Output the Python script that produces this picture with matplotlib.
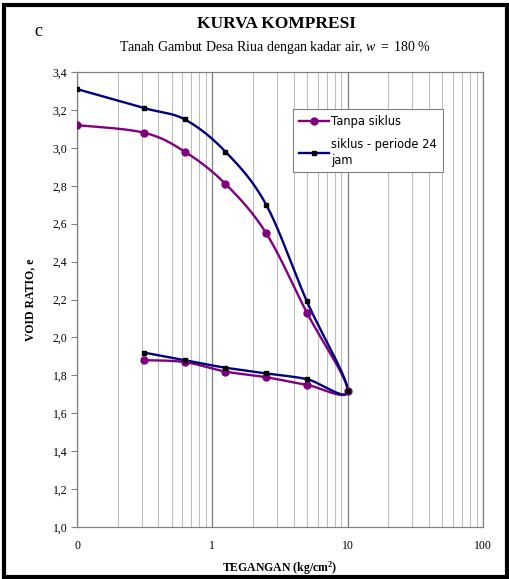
# Kurva kompresi - tanah gambut Desa Riua, w = 180 %
import numpy as np
import matplotlib.pyplot as plt
from matplotlib.patches import Rectangle
from matplotlib.ticker import FixedLocator, LogLocator, NullFormatter

# loading 0.1 -> 10, then unloading back to 0.3125 (0.1 plotted as "0")
tegangan = [0.1, 0.3125, 0.625, 1.25, 2.5, 5, 10, 5, 2.5, 1.25, 0.625, 0.3125]
e_tanpa = [3.12, 3.08, 2.98, 2.81, 2.55, 2.13, 1.72, 1.75, 1.79, 1.82, 1.87, 1.88]
e_siklus = [3.31, 3.21, 3.15, 2.98, 2.70, 2.19, 1.72, 1.78, 1.81, 1.84, 1.88, 1.92]

x_ticks = [0.1, 1, 10, 100]
x_ticklabels = ["0", "1", "10", "100"]
y_ticks = [1.0, 1.2, 1.4, 1.6, 1.8, 2.0, 2.2, 2.4, 2.6, 2.8, 3.0, 3.2, 3.4]

serif = ["Liberation Serif", "DejaVu Serif"]
plt.rcParams["mathtext.fontset"] = "custom"
plt.rcParams["mathtext.rm"] = "Liberation Serif"
plt.rcParams["mathtext.it"] = "Liberation Serif:italic"
plt.rcParams["mathtext.bf"] = "Liberation Serif:bold"


def smooth(ax, x, y, n=40):
    # excel-like smoothing: bezier through points, done in screen space
    pts = ax.transData.transform(np.column_stack([x, y]))
    P = np.vstack([pts[0], pts, pts[-1]])
    t = np.linspace(0, 1, n)[:, None]
    segs = []
    for i in range(1, len(P) - 2):
        p0, p1, p2, p3 = P[i - 1], P[i], P[i + 1], P[i + 2]
        c1 = p1 + (p2 - p0) / 6
        c2 = p2 - (p3 - p1) / 6
        segs.append((1 - t)**3 * p1 + 3 * (1 - t)**2 * t * c1
                    + 3 * (1 - t) * t**2 * c2 + t**3 * p2)
    out = ax.transData.inverted().transform(np.vstack(segs))
    return out[:, 0], out[:, 1]


fig = plt.figure(figsize=(5.1, 5.79), dpi=100)
ax = fig.add_axes([0.151, 0.0898, 0.796, 0.7858])
ax.set_xscale("log")
ax.set_xlim(0.1, 100)
ax.set_ylim(1.0, 3.4)

# outer frame
fig.patches.append(Rectangle((0.008, 0.004), 0.986, 0.988, transform=fig.transFigure,
                             fill=False, lw=3, ec="black"))

ax.xaxis.set_major_locator(FixedLocator(x_ticks))
ax.set_xticklabels(x_ticklabels, fontfamily=serif, fontsize=8.5)
ax.xaxis.set_minor_locator(LogLocator(base=10, subs=np.arange(2, 10)))
ax.xaxis.set_minor_formatter(NullFormatter())
ax.tick_params(axis="x", which="both", length=0, pad=9)
ax.grid(True, axis="x", which="major", color="#7f7f7f", lw=0.9)
ax.grid(True, axis="x", which="minor", color="#bdbdbd", lw=0.8)

ax.set_yticks(y_ticks)
ax.set_yticklabels([f"{v:.1f}".replace(".", ",") for v in y_ticks], fontfamily=serif, fontsize=8.5)
ax.tick_params(axis="y", length=4, color="#808080", pad=3)

for s in ax.spines.values():
    s.set_color("#808080")
    s.set_linewidth(0.9)

fig.canvas.draw()
xs, ys = smooth(ax, tegangan, e_tanpa)
ax.plot(xs, ys, color="#800080", lw=1.7, zorder=3)
ax.plot(tegangan, e_tanpa, "o", color="#800080", ms=5, zorder=4)
xs, ys = smooth(ax, tegangan, e_siklus)
ax.plot(xs, ys, color="#000080", lw=1.7, zorder=3)
ax.plot(tegangan, e_siklus, "s", color="black", ms=3.5, zorder=4)

# legend handles
h1, = ax.plot([], [], color="#800080", lw=1.7, marker="o", ms=5)
h2, = ax.plot([], [], color="#000080", lw=1.7, marker="s", ms=3.5, mfc="black", mec="black")
leg = ax.legend([h1, h2], ["Tanpa siklus", "siklus - periode 24\njam"],
                loc="upper left", bbox_to_anchor=(0.532, 0.919), fancybox=False,
                edgecolor="#808080", framealpha=1, handlelength=2.6, handletextpad=0.2,
                labelspacing=0.9, borderaxespad=0, borderpad=0.5,
                prop={"family": "DejaVu Sans", "size": 8.3})
leg.get_frame().set_linewidth(0.8)
for txt in leg.get_texts():
    txt.set_linespacing(1.25)

ax.set_xlabel("TEGANGAN (kg/cm$^\\mathbf{2}$)", fontfamily=serif, fontweight="bold", fontsize=8.5, labelpad=6)
ax.set_ylabel("VOID RATIO, e", fontfamily=serif, fontweight="bold", fontsize=8.5, labelpad=12)

fig.text(0.543, 0.958, "KURVA KOMPRESI", ha="center", va="center",
         fontfamily=serif, fontweight="bold", fontsize=12.5)
fig.text(0.54, 0.918, "Tanah Gambut Desa Riua dengan kadar air, $w$ $=$ 180 %",
         ha="center", va="center", fontfamily=serif, fontsize=10)
fig.text(0.075, 0.945, "c", ha="center", va="center", fontfamily=serif, fontsize=13)

fig.savefig("out.png", dpi=100)
